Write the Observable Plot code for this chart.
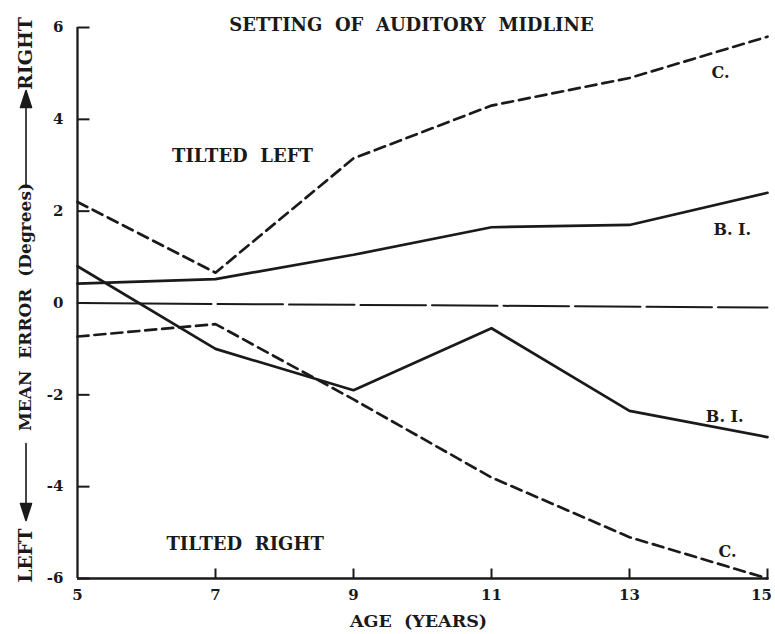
<!DOCTYPE html>
<html><head><meta charset="utf-8">
<script src="https://cdn.jsdelivr.net/npm/d3@7"></script>
<script src="https://cdn.jsdelivr.net/npm/@observablehq/plot@0.6"></script>
<style>body{margin:0;background:#fff} #chart svg{font-family:"DejaVu Serif",serif;}</style>
</head><body><div id="chart"></div>
<script>
const ages = [5, 7, 9, 11, 13, 15];
const cUpper = [2.2, 0.66, 3.15, 4.3, 4.9, 5.8];
const biUpper = [0.42, 0.52, 1.05, 1.65, 1.7, 2.4];
const biLower = [0.8, -1.0, -1.9, -0.55, -2.35, -2.92];
const cLower = [-0.73, -0.46, -2.1, -3.8, -5.1, -6.0];
const zeroLine = [{age: 5, v: 0}, {age: 15, v: -0.1}];
const yTicks = [-6, -4, -2, 0, 2, 4, 6];
const xTicks = [5, 7, 9, 11, 13, 15];
const seriesLabels = [
  {text: "C.", age: 14.32, v: 5.02},
  {text: "B. I.", age: 14.49, v: 1.59},
  {text: "B. I.", age: 14.38, v: -2.48},
  {text: "C.", age: 14.42, v: -5.41}
];
const regionLabels = [
  {text: "TILTED\u00a0 LEFT", age: 7.39, v: 3.2},
  {text: "TILTED\u00a0 RIGHT", age: 7.43, v: -5.26}
];
const title = "SETTING\u00a0 OF\u00a0 AUDITORY\u00a0 MIDLINE";
const xLabel = "AGE\u00a0 (YEARS)";
const yLabelMid = "MEAN\u00a0 ERROR\u00a0 (Degrees)";

const rows = (vals) => ages.map((a, i) => ({age: a, v: vals[i]}));
const tickShape = {draw(ctx, l) { ctx.moveTo(0, 0); ctx.lineTo(0, -l); }};
const arrowShape = {draw(ctx, l) {
  const h = 17;
  ctx.moveTo(0, 0); ctx.lineTo(0, -(l - h));
  ctx.moveTo(-5.5, -(l - h)); ctx.lineTo(0, -l); ctx.lineTo(5.5, -(l - h)); ctx.closePath();
}};
const ink = "#1a1a1a";
const bold = {fontWeight: "bold", fontFamily: "DejaVu Serif", fill: ink, textAnchor: "middle", lineAnchor: "middle"};
const tickFmt = d => String(d);

const chart = Plot.plot({
  width: 775, height: 634,
  marginLeft: 77, marginRight: 8, marginTop: 27, marginBottom: 56,
  style: {background: "#fff", color: ink, fontFamily: "DejaVu Serif"},
  x: {domain: [5, 15]},
  y: {domain: [-6, 6]},
  marks: [
    Plot.axisX(xTicks.slice(0, -1), {tickSize: 0, tickPadding: 11, fontSize: 15, fontWeight: "bold", label: null, tickFormat: tickFmt}),
    Plot.axisX(xTicks.slice(-1), {tickSize: 0, tickPadding: 11, fontSize: 15, fontWeight: "bold", label: null, tickFormat: tickFmt, dx: -6}),
    Plot.axisY(yTicks, {tickSize: 0, tickPadding: 14, fontSize: 15, fontWeight: "bold", label: null, tickFormat: tickFmt}),
    Plot.ruleX([5], {stroke: ink, strokeWidth: 2.3}),
    Plot.ruleY([-6], {stroke: ink, strokeWidth: 2.3}),
    Plot.vector(yTicks, {x: () => 5, y: d => d, rotate: 90, length: 12, anchor: "start", shape: tickShape, stroke: ink, strokeWidth: 2, strokeLinecap: "butt"}),
    Plot.vector(xTicks.slice(1), {x: d => d, y: () => -6, rotate: 0, length: 10, anchor: "start", shape: tickShape, stroke: ink, strokeWidth: 2, strokeLinecap: "butt"}),
    Plot.line(zeroLine, {x: "age", y: "v", stroke: ink, strokeWidth: 2,
      strokeDasharray: "134,6,65.5,6,65.5,6,65.5,6,65.5,6,65.5,6,65.5,6,65.5,6,65.5,6,65.5,6"}),
    Plot.line(rows(cUpper), {x: "age", y: "v", stroke: ink, strokeWidth: 2.7, strokeDasharray: "11,6"}),
    Plot.line(rows(cLower), {x: "age", y: "v", stroke: ink, strokeWidth: 2.7, strokeDasharray: "11,6"}),
    Plot.line(rows(biUpper), {x: "age", y: "v", stroke: ink, strokeWidth: 2.7}),
    Plot.line(rows(biLower), {x: "age", y: "v", stroke: ink, strokeWidth: 2.7}),
    Plot.text(seriesLabels, {x: "age", y: "v", text: "text", fontSize: 16, ...bold}),
    Plot.text(regionLabels, {x: "age", y: "v", text: "text", fontSize: 18, ...bold}),
    Plot.text([title], {text: d => d, frameAnchor: "top", dx: -11, dy: -2, fontSize: 18, ...bold}),
    Plot.text([xLabel], {text: d => d, frameAnchor: "bottom", dx: -4, dy: 43, fontSize: 17.5, ...bold}),
    Plot.text(["RIGHT"], {text: d => d, frameAnchor: "top-left", dx: -51.5, dy: 26, rotate: -90, fontSize: 19, ...bold}),
    Plot.text([yLabelMid], {text: d => d, frameAnchor: "left", dx: -51.5, dy: 4, rotate: -90, fontSize: 17, ...bold}),
    Plot.text(["LEFT"], {text: d => d, frameAnchor: "bottom-left", dx: -51.5, dy: -23, rotate: -90, fontSize: 18.5, ...bold}),
    Plot.vector([0], {frameAnchor: "top-left", dx: -51.5, dy: 160, rotate: 0, length: 97, anchor: "start", shape: arrowShape, stroke: ink, fill: ink, strokeWidth: 1.6}),
    Plot.vector([0], {frameAnchor: "bottom-left", dx: -51.5, dy: -135, rotate: 180, length: 77, anchor: "start", shape: arrowShape, stroke: ink, fill: ink, strokeWidth: 1.6})
  ]
});
document.getElementById("chart").append(chart);
</script>
</body></html>
